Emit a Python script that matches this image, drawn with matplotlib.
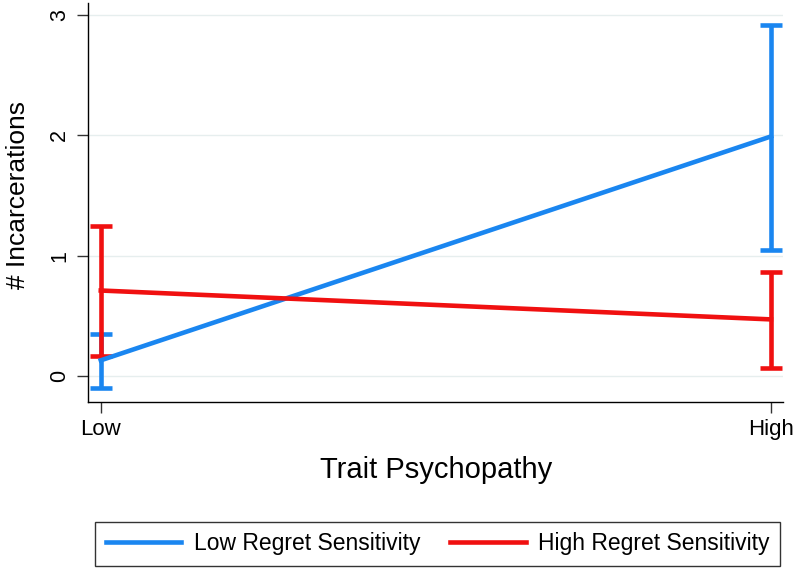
import matplotlib
matplotlib.use("Agg")
import matplotlib.pyplot as plt
import numpy as np

# data
levels = ["Low", "High"]
series = ["Low Regret Sensitivity", "High Regret Sensitivity"]
low_regret_mean = [0.13, 1.99]
low_regret_lo = [-0.10, 1.05]
low_regret_hi = [0.35, 2.92]
high_regret_mean = [0.71, 0.47]
high_regret_lo = [0.17, 0.07]
high_regret_hi = [1.25, 0.86]
yticks = [0, 1, 2, 3]

blue = "#1a86f0"
red = "#f01010"

plt.rcParams["font.family"] = ["Liberation Sans", "DejaVu Sans"]

fig = plt.figure(figsize=(7.96, 5.68), dpi=100)
ax = fig.add_axes([0.1106, 0.2923, 0.8731, 0.7027])

x = np.arange(len(levels))
for mean, lo, hi, col, lab in [
    (low_regret_mean, low_regret_lo, low_regret_hi, blue, series[0]),
    (high_regret_mean, high_regret_lo, high_regret_hi, red, series[1]),
]:
    mean = np.array(mean)
    yerr = [mean - np.array(lo), np.array(hi) - mean]
    ax.errorbar(x, mean, yerr=yerr, fmt="none", ecolor=col, elinewidth=3.3,
                capsize=8, capthick=3.3, zorder=3)
    ax.plot(x, mean, color=col, lw=3.3, label=lab, zorder=4)

ax.set_xlim(-0.019, 1.018)
ax.set_ylim(-0.216, 3.10)
ax.set_xticks(x)
ax.set_xticklabels(levels, fontsize=16)
ax.set_yticks(yticks)
ax.set_yticklabels([str(t) for t in yticks], fontsize=15.5, rotation=90, va="center")
ax.grid(axis="y", color="#e6eeee", lw=1, zorder=0)
ax.set_axisbelow(True)
for s in ["top", "right"]:
    ax.spines[s].set_visible(False)
ax.spines["left"].set_linewidth(1)
ax.spines["bottom"].set_linewidth(1)
ax.tick_params(axis="y", length=8, width=1, color="#333333", pad=5)
ax.tick_params(axis="x", length=8, width=1, color="#333333", pad=4)

fig.text(0.548, 1 - 478 / 568, "Trait Psychopathy", fontsize=21,
         ha="center", va="baseline")
fig.text(25 / 796, 1 - 195 / 568, "# Incarcerations", fontsize=19,
         rotation=90, ha="center", va="baseline", rotation_mode="anchor")

leg = fig.legend(loc="lower center", bbox_to_anchor=(0.55, 0.0), ncol=2, fontsize=16.5,
                 frameon=True, fancybox=False, edgecolor="black", handlelength=3.3,
                 handletextpad=0.55, columnspacing=1.3, borderpad=0.45,
                 borderaxespad=0.1)
leg.get_frame().set_linewidth(1)

fig.savefig("out.png", dpi=100)
